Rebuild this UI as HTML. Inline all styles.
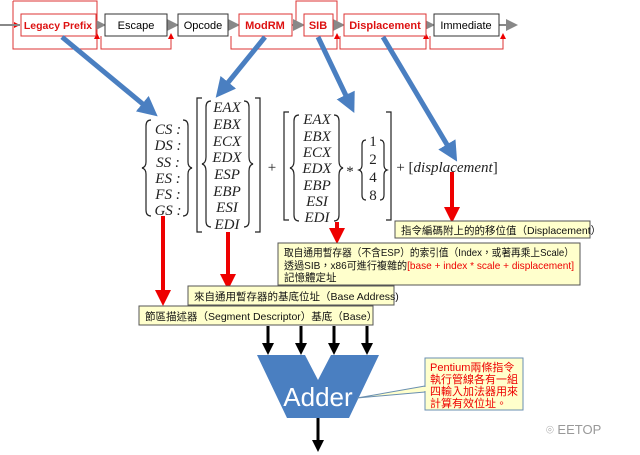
<!DOCTYPE html>
<html><head><meta charset="utf-8"><style>
body{margin:0;background:#fff;}
svg{display:block;}
.m{font-family:"Liberation Serif",serif;font-style:italic;font-size:15px;fill:#222;}
.c{font-family:"Liberation Sans","Noto Sans CJK TC",sans-serif;font-size:10.5px;fill:#111;}
</style></head><body>
<svg width="640" height="455" viewBox="0 0 640 455" xmlns="http://www.w3.org/2000/svg">
<defs>
<marker id="g" markerWidth="6" markerHeight="6" refX="5" refY="3" orient="auto"><path d="M0,0L6,3L0,6z" fill="#888"/></marker>
<marker id="r" markerWidth="6" markerHeight="6" refX="5" refY="3" orient="auto"><path d="M0,0L6,3L0,6z" fill="#e00"/></marker>
<marker id="b" markerWidth="4" markerHeight="4" refX="2" refY="2" orient="auto"><path d="M0,0L4,2L0,4z" fill="#4a7fc1"/></marker>
<marker id="R" markerWidth="4" markerHeight="4" refX="2" refY="2" orient="auto"><path d="M0,0L4,2L0,4z" fill="#e00"/></marker>
<marker id="K" markerWidth="4" markerHeight="4" refX="2" refY="2" orient="auto"><path d="M0,0L4,2L0,4z" fill="#000"/></marker>
</defs>
<g stroke="#d33" fill="none" stroke-width="1">
<path d="M13,1H97V40"/><path d="M13,1V49H97V40" /><path d="M101,36V49H171V34" marker-end="url(#r)"/>
<path d="M231,36V49H337V34" marker-end="url(#r)"/><path d="M296,25V1H337V25"/>
<path d="M340,36V49H426V34" marker-end="url(#r)"/><path d="M430,36V49H503V34" marker-end="url(#r)"/>
<path d="M97,49V34" marker-end="url(#r)"/><path d="M13,25H19" marker-end="url(#r)"/>
</g>
<g stroke="#888" stroke-width="2">
<line x1="0" y1="25" x2="20" y2="25"/><line x1="96" y1="25" x2="104" y2="25" marker-end="url(#g)"/>
<line x1="167" y1="25" x2="177" y2="25" marker-end="url(#g)"/><line x1="228" y1="25" x2="238" y2="25" marker-end="url(#g)"/>
<line x1="292" y1="25" x2="303" y2="25" marker-end="url(#g)"/><line x1="333" y1="25" x2="343" y2="25" marker-end="url(#g)"/>
<line x1="426" y1="25" x2="433" y2="25" marker-end="url(#g)"/><line x1="499" y1="25" x2="516" y2="25" marker-end="url(#g)"/>
</g>
<g font-family="Liberation Sans,sans-serif" font-size="11" text-anchor="middle">
<rect x="21" y="14" width="75" height="22" fill="#fff" stroke="#d33"/><text x="58" y="29" fill="#d11" font-weight="bold" font-size="10.5">Legacy Prefix</text>
<rect x="105" y="14" width="62" height="22" fill="#fff" stroke="#333"/><text x="136" y="29">Escape</text>
<rect x="178" y="14" width="50" height="22" fill="#fff" stroke="#333"/><text x="203" y="29">Opcode</text>
<rect x="239" y="14" width="53" height="22" fill="#fff" stroke="#d33"/><text x="265" y="29" fill="#d11" font-weight="bold">ModRM</text>
<rect x="304" y="14" width="29" height="22" fill="#fff" stroke="#d33"/><text x="318" y="29" fill="#d11" font-weight="bold">SIB</text>
<rect x="344" y="14" width="82" height="22" fill="#fff" stroke="#d33"/><text x="385" y="29" fill="#d11" font-weight="bold">Displacement</text>
<rect x="434" y="14" width="65" height="22" fill="#fff" stroke="#333"/><text x="466" y="29">Immediate</text>
</g>
<g stroke="#4a7fc1" stroke-width="5">
<line x1="62" y1="37" x2="150" y2="110" marker-end="url(#b)"/>
<line x1="265" y1="37" x2="222" y2="90" marker-end="url(#b)"/>
<line x1="318" y1="37" x2="350" y2="104" marker-end="url(#b)"/>
<line x1="383" y1="37" x2="452" y2="153" marker-end="url(#b)"/>
</g>
<g class="m" text-anchor="middle">
<text x="168" y="134">CS :</text><text x="168" y="150">DS :</text><text x="168" y="167">SS :</text><text x="168" y="183">ES :</text><text x="168" y="199">FS :</text><text x="168" y="215">GS :</text>
<text x="227" y="112">EAX</text><text x="227" y="129">EBX</text><text x="227" y="146">ECX</text><text x="227" y="162">EDX</text><text x="227" y="179">ESP</text><text x="227" y="196">EBP</text><text x="227" y="212">ESI</text><text x="227" y="229">EDI</text>
<text x="317" y="124">EAX</text><text x="317" y="141">EBX</text><text x="317" y="157">ECX</text><text x="317" y="173">EDX</text><text x="317" y="190">EBP</text><text x="317" y="206">ESI</text><text x="317" y="222">EDI</text>
<text x="373" y="146" font-style="normal">1</text><text x="373" y="164" font-style="normal">2</text><text x="373" y="182" font-style="normal">4</text><text x="373" y="200" font-style="normal">8</text>
<text x="272" y="172" font-style="normal">+</text><text x="350" y="176" font-style="normal">*</text>
<text x="447" y="172"><tspan font-style="normal">+ [</tspan>displacement<tspan font-style="normal">]</tspan></text>
</g>
<g fill="none" stroke="#222" stroke-width="1.2">
<path d="M151,120q-5,0-5,6v36q0,5-4,6q4,1 4,6v36q0,6 5,6"/><path d="M183,120q5,0 5,6v36q0,5 4,6q-4,1-4,6v36q0,6-5,6"/>
<path d="M202,98h-5v134h5"/><path d="M255,98h5v134h-5"/>
<path d="M211,101q-5,0-5,6v50q0,6-4,7q4,1 4,7v50q0,6 5,6"/><path d="M244,101q5,0 5,6v50q0,6 4,7q-4,1-4,7v50q0,6-5,6"/>
<path d="M289,112h-5v108h5"/><path d="M386,112h5v108h-5"/>
<path d="M299,115q-5,0-5,6v40q0,6-4,7q4,1 4,7v40q0,6 5,6"/><path d="M334,115q5,0 5,6v40q0,6 4,7q-4,1-4,7v40q0,6-5,6"/>
<path d="M366,140q-4,0-4,5v20q0,4-3,5q3,1 3,5v20q0,5 4,5"/><path d="M380,140q4,0 4,5v20q0,4 3,5q-3,1-3,5v20q0,5-4,5"/>
</g>
<g stroke="#e00" stroke-width="4">
<line x1="163" y1="216" x2="163" y2="298" marker-end="url(#R)"/>
<line x1="228" y1="232" x2="228" y2="282" marker-end="url(#R)"/>
<line x1="337" y1="222" x2="337" y2="236" marker-end="url(#R)"/>
<line x1="452" y1="172" x2="452" y2="215" marker-end="url(#R)"/>
</g>
<g fill="#ffffcc" stroke="#555">
<rect x="395" y="221" width="195" height="17"/><rect x="278" y="243" width="302" height="42"/>
<rect x="188" y="286" width="206" height="19"/><rect x="139" y="306" width="234" height="19"/>
</g>
<text class="c" x="401" y="234">指令編碼附上的的移位值（Displacement）</text>
<text class="c" x="284" y="256" textLength="290" lengthAdjust="spacingAndGlyphs">取自通用暫存器（不含ESP）的索引值（Index，或著再乘上Scale）</text>
<text class="c" x="284" y="269" textLength="290" lengthAdjust="spacingAndGlyphs">透過SIB，x86可進行複雜的<tspan fill="#e00">[base + index * scale + displacement]</tspan></text>
<text class="c" x="284" y="281">記憶體定址</text>
<text class="c" x="194" y="300">來自通用暫存器的基底位址（Base Address)</text>
<text class="c" x="145" y="320">節區描述器（Segment Descriptor）基底（Base）</text>
<g stroke="#000" stroke-width="3">
<line x1="268" y1="326" x2="268" y2="349" marker-end="url(#K)"/><line x1="301" y1="326" x2="301" y2="349" marker-end="url(#K)"/>
<line x1="334" y1="326" x2="334" y2="349" marker-end="url(#K)"/><line x1="367" y1="326" x2="367" y2="349" marker-end="url(#K)"/>
<line x1="318" y1="418" x2="318" y2="446" marker-end="url(#K)"/>
</g>
<path d="M257,355H305L318,380L331,355H379L349,418H287Z" fill="#4a7fc1"/>
<text x="318" y="406" text-anchor="middle" font-family="Liberation Sans,sans-serif" font-size="26" fill="#fff">Adder</text>
<path d="M425,386L357,398L425,392" fill="#ffffcc" stroke="#6a8fb0"/>
<rect x="425" y="358" width="98" height="52" fill="#ffffcc" stroke="#6a8fb0"/>
<line x1="425.5" y1="387" x2="425.5" y2="391" stroke="#ffffcc" stroke-width="2"/>
<g class="c" style="fill:#e00;font-size:11px">
<text x="430" y="371">Pentium兩條指令</text><text x="430" y="383">執行管線各有一組</text><text x="430" y="395">四輸入加法器用來</text><text x="430" y="407">計算有效位址。</text>
</g>
<text x="546" y="434" font-family="Liberation Sans,sans-serif" font-size="13" fill="#999">⌾ EETOP</text>
</svg>
</body></html>
